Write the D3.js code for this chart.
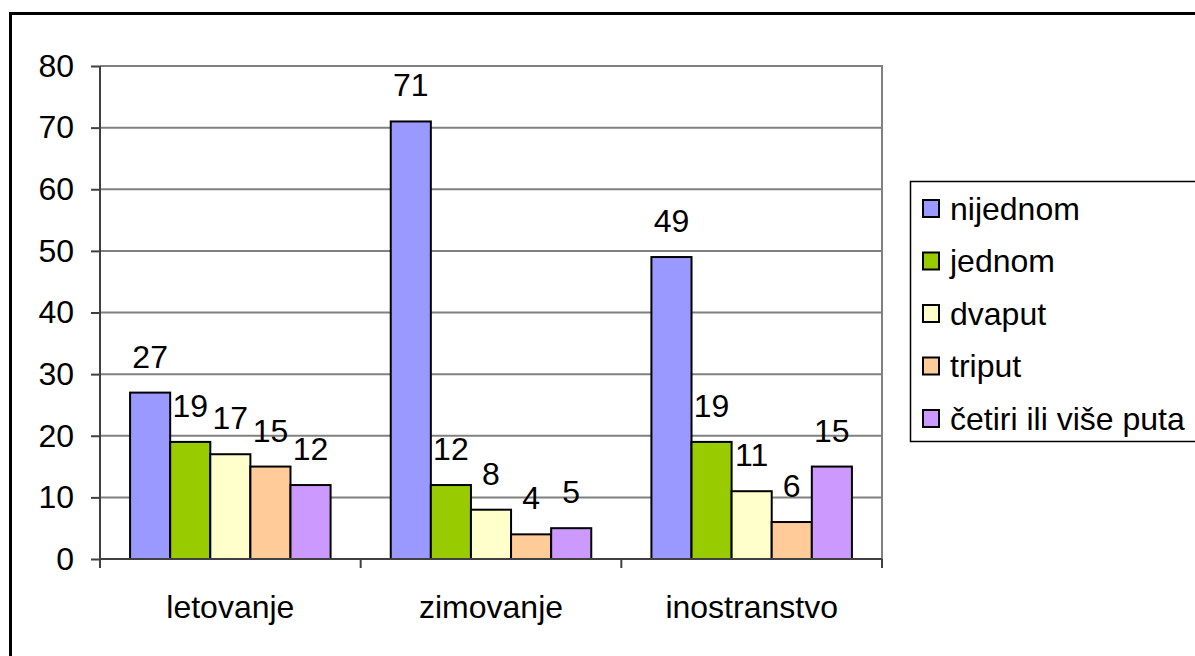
<!DOCTYPE html>
<html>
<head>
<meta charset="utf-8">
<script src="https://cdn.jsdelivr.net/npm/d3@7"></script>
<style>
  html, body { margin: 0; padding: 0; background: #fff; }
  svg { display: block; }
  text { font-family: "Liberation Sans", Arial, sans-serif; fill: #000; }
</style>
</head>
<body>
<svg id="chart" width="1195" height="656"></svg>
<script>
const categories = ["letovanje", "zimovanje", "inostranstvo"];
const seriesNames = ["nijednom", "jednom", "dvaput", "triput", "četiri ili više puta"];
const seriesColors = ["#9999FF", "#99CC00", "#FFFFCC", "#FFCC99", "#CC99FF"];
// values[s][c]: series s, category c
const nijednom = [27, 71, 49];
const jednom = [19, 12, 19];
const dvaput = [17, 8, 11];
const triput = [15, 4, 6];
const cetiri = [12, 5, 15];
const seriesValues = [nijednom, jednom, dvaput, triput, cetiri];
const yTicks = [0, 10, 20, 30, 40, 50, 60, 70, 80];

const svg = d3.select("#chart");
const fontSize = 32;

// outer border (extends past right and bottom edges)
svg.append("rect")
  .attr("x", 10.5).attr("y", 13.5)
  .attr("width", 1400).attr("height", 1000)
  .attr("fill", "none").attr("stroke", "#000").attr("stroke-width", 3);

const plot = { left: 100, right: 882, top: 66, bottom: 559 };

const y = d3.scaleLinear().domain([0, 80]).range([plot.bottom, plot.top]);
const x0 = d3.scaleBand().domain(categories).range([plot.left, plot.right]).padding(0);
const x1 = d3.scaleBand().domain(seriesNames).range([0, x0.bandwidth()])
  .paddingInner(0).paddingOuter(0.75);

// gridlines
svg.append("g").selectAll("line")
  .data(yTicks.filter(t => t > 0))
  .join("line")
  .attr("x1", plot.left).attr("x2", plot.right)
  .attr("y1", d => y(d)).attr("y2", d => y(d))
  .attr("stroke", "#808080").attr("stroke-width", 2);

// plot area right border
svg.append("line")
  .attr("x1", plot.right).attr("x2", plot.right)
  .attr("y1", plot.top - 1).attr("y2", plot.bottom)
  .attr("stroke", "#808080").attr("stroke-width", 2);

// bars
const rows = [];
seriesNames.forEach((s, si) => {
  categories.forEach((c, ci) => {
    rows.push({ s, si, c, v: seriesValues[si][ci] });
  });
});

svg.append("g").selectAll("rect")
  .data(rows)
  .join("rect")
  .attr("x", d => x0(d.c) + x1(d.s))
  .attr("y", d => y(d.v))
  .attr("width", x1.bandwidth())
  .attr("height", d => y(0) - y(d.v))
  .attr("fill", d => seriesColors[d.si])
  .attr("stroke", "#000").attr("stroke-width", 2);

// value labels
svg.append("g").selectAll("text")
  .data(rows)
  .join("text")
  .attr("x", d => x0(d.c) + x1(d.s) + x1.bandwidth() / 2)
  .attr("y", d => y(d.v) - 25)
  .attr("text-anchor", "middle")
  .attr("font-size", fontSize)
  .text(d => d.v);

// y axis
const yAxis = svg.append("g")
  .attr("transform", `translate(${plot.left},0)`)
  .call(d3.axisLeft(y).tickValues(yTicks).tickSize(9).tickPadding(17).tickFormat(d3.format("d")));
yAxis.select(".domain").attr("stroke", "#404040").attr("stroke-width", 2)
  .attr("d", `M0,${plot.top}V${plot.bottom + 9}`);
yAxis.selectAll(".tick line").attr("stroke", "#404040").attr("stroke-width", 2);
yAxis.selectAll(".tick text").attr("font-size", fontSize)
  .attr("font-family", "Liberation Sans, Arial, sans-serif").attr("fill", "#000");

// x axis
const xAxis = svg.append("g")
  .attr("transform", `translate(0,${plot.bottom})`)
  .call(d3.axisBottom(x0).tickSize(0).tickPadding(0));
xAxis.select(".domain").attr("stroke", "#404040").attr("stroke-width", 2)
  .attr("d", `M${plot.left},0H${plot.right}`);
xAxis.selectAll(".tick text").remove();
// category separators
const sepPositions = categories.map(c => x0(c)).concat([plot.right]);
xAxis.selectAll("line.sep")
  .data(sepPositions)
  .join("line").attr("class", "sep")
  .attr("x1", d => d).attr("x2", d => d)
  .attr("y1", 0).attr("y2", 9)
  .attr("stroke", "#404040").attr("stroke-width", 2);
svg.append("g").selectAll("text")
  .data(categories)
  .join("text")
  .attr("x", d => x0(d) + x0.bandwidth() / 2)
  .attr("y", 618)
  .attr("text-anchor", "middle")
  .attr("font-size", fontSize)
  .text(d => d);

// legend
const legend = svg.append("g");
legend.append("rect")
  .attr("x", 910.5).attr("y", 181.5)
  .attr("width", 400).attr("height", 260)
  .attr("fill", "#fff").attr("stroke", "#000").attr("stroke-width", 1.5);
const items = legend.selectAll("g.item")
  .data(seriesNames)
  .join("g").attr("class", "item")
  .attr("transform", (d, i) => `translate(0,${208.5 + i * 52.5})`);
items.append("rect")
  .attr("x", 923).attr("y", -8.5)
  .attr("width", 16).attr("height", 17)
  .attr("fill", (d, i) => seriesColors[i])
  .attr("stroke", "#000").attr("stroke-width", 2);
items.append("text")
  .attr("x", 950).attr("y", 11)
  .attr("font-size", fontSize)
  .text(d => d);
</script>
</body>
</html>
